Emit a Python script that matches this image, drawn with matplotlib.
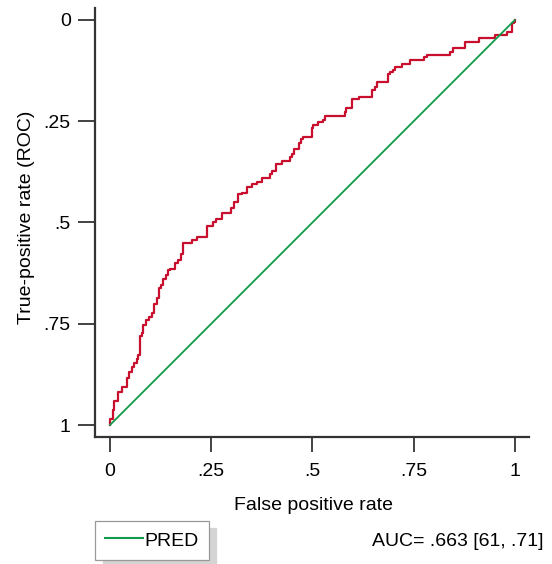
import matplotlib
matplotlib.use("Agg")
import matplotlib.pyplot as plt

plt.rcParams['font.family'] = ['Liberation Sans', 'DejaVu Sans']

# ROC steps (fpr, value shown on the inverted y axis)
fpr = [0.0, 0.0, 0.0067, 0.0099, 0.019, 0.030, 0.041, 0.048, 0.055, 0.060,
       0.066, 0.070, 0.074, 0.078, 0.081, 0.088, 0.097, 0.104, 0.109, 0.115,
       0.121, 0.126, 0.132, 0.138, 0.144, 0.148, 0.160, 0.167, 0.175, 0.181,
       0.202, 0.214, 0.239, 0.255, 0.263, 0.276, 0.300, 0.306, 0.317, 0.325,
       0.338, 0.352, 0.362, 0.375, 0.395, 0.399, 0.410, 0.424, 0.444, 0.449,
       0.454, 0.467, 0.471, 0.477, 0.498, 0.502, 0.514, 0.527, 0.531, 0.580,
       0.584, 0.597, 0.599, 0.616, 0.646, 0.654, 0.659, 0.687, 0.691, 0.698,
       0.704, 0.722, 0.742, 0.776, 0.782, 0.840, 0.848, 0.878, 0.911, 0.952,
       0.980, 0.993, 0.998, 1.0]
rate = [1.0, 0.985, 0.963, 0.941, 0.919, 0.905, 0.883, 0.870, 0.858, 0.848,
        0.837, 0.827, 0.780, 0.774, 0.753, 0.741, 0.733, 0.724, 0.702, 0.687,
        0.662, 0.654, 0.640, 0.630, 0.617, 0.615, 0.601, 0.593, 0.578, 0.551,
        0.543, 0.535, 0.508, 0.498, 0.492, 0.477, 0.465, 0.450, 0.430, 0.426,
        0.412, 0.405, 0.399, 0.391, 0.380, 0.372, 0.356, 0.348, 0.338, 0.331,
        0.319, 0.304, 0.295, 0.288, 0.267, 0.259, 0.253, 0.247, 0.237, 0.226,
        0.218, 0.206, 0.196, 0.189, 0.173, 0.166, 0.152, 0.133, 0.128, 0.123,
        0.115, 0.109, 0.100, 0.092, 0.086, 0.078, 0.068, 0.054, 0.045, 0.037,
        0.029, 0.008, 0.004, 0.0]

ref_x = [0, 1]
ref_y = [1, 0]

ticks = [0, 0.25, 0.5, 0.75, 1]
tick_labels = ['0', '.25', '.5', '.75', '1']
auc_text = 'AUC= .663 [61, .71]'

fig = plt.figure(figsize=(5.52, 5.64), dpi=100)
ax = fig.add_axes([95 / 552, 1 - 437 / 564, 434 / 552, 429 / 564])

ax.plot(fpr, rate, drawstyle='steps-post', color='#c8102e', lw=1.6)
ref_line, = ax.plot(ref_x, ref_y, color='#109a4a', lw=1.3)

ax.set_xlim(-0.037, 1.035)
ax.set_ylim(1.0296, -0.0296)

for s in ['top', 'right']:
    ax.spines[s].set_visible(False)
for s in ['left', 'bottom']:
    ax.spines[s].set_linewidth(1.6)
    ax.spines[s].set_color('#333333')

ax.set_xticks(ticks)
ax.set_xticklabels(tick_labels)
ax.set_yticks(ticks)
ax.set_yticklabels(tick_labels)
ax.tick_params(axis='y', length=12, width=1.2, pad=5.5, labelsize=14, color='#222222')
ax.tick_params(axis='x', length=11, width=1.2, pad=8, labelsize=14, color='#222222')

ax.set_xlabel('False positive rate', fontsize=14, va='center')
ax.xaxis.set_label_coords((313 - 95) / 434, (437 - 506) / 429)
ax.set_ylabel('True-positive rate (ROC)', fontsize=14, va='center')
ax.yaxis.set_label_coords((27 - 95) / 434, (437 - 217) / 429)

leg = fig.legend([ref_line], ['PRED'], loc='upper left',
                 bbox_to_anchor=(95 / 552, 1 - 520.5 / 564), borderaxespad=0,
                 fontsize=14, handlelength=1.95, handletextpad=0.1,
                 handleheight=1.05, borderpad=0.5, fancybox=False,
                 shadow={'ox': 5.5, 'oy': -5.5, 'color': '#d4d4d4', 'alpha': 1})
leg.get_frame().set_edgecolor('#999999')
leg.get_frame().set_linewidth(0.9)
for ln in leg.get_lines():
    ln.set_linewidth(1.5)

fig.text(544 / 552, 1 - 542 / 564, auc_text, ha='right', va='center', fontsize=14)

fig.savefig('out.png', dpi=100)
